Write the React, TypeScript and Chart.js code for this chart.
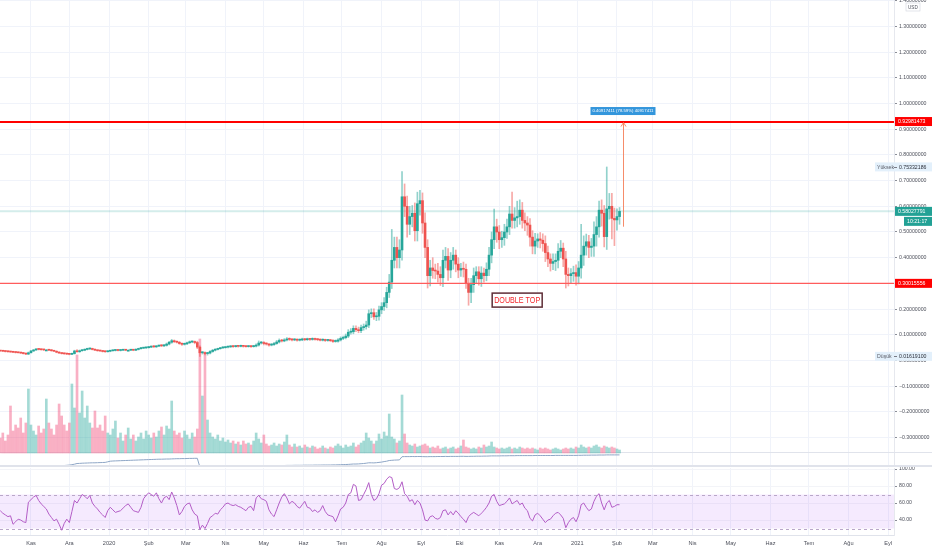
import React, { useEffect, useRef } from "react";
import { Chart, registerables } from "chart.js";

Chart.register(...registerables);

// ---------- data (days counted from 1 Nov 2019, one candle per 2 days) ----------
const firstDay = -24;
const dayStep = 2;
const firstOpen = 0.038;

const closes = [
  0.037, 0.036, 0.035, 0.034, 0.033, 0.032, 0.031, 0.030, 0.029, 0.027,
  0.025, 0.030, 0.037, 0.041, 0.044, 0.043, 0.042, 0.041, 0.041, 0.040,
  0.038, 0.036, 0.032, 0.029, 0.027, 0.026, 0.025, 0.024, 0.027, 0.037,
  0.034, 0.038, 0.040, 0.043, 0.045, 0.046, 0.043, 0.040, 0.038, 0.037,
  0.035, 0.034, 0.036, 0.038, 0.039, 0.040, 0.039, 0.040, 0.041, 0.040,
  0.040, 0.041, 0.040, 0.043, 0.046, 0.048, 0.049, 0.050, 0.052, 0.055,
  0.053, 0.056, 0.058, 0.057, 0.059, 0.064, 0.071, 0.077, 0.073, 0.071,
  0.066, 0.063, 0.065, 0.069, 0.072, 0.073, 0.070, 0.052, 0.030, 0.031,
  0.027, 0.029, 0.035, 0.040, 0.043, 0.046, 0.049, 0.050, 0.052, 0.053,
  0.055, 0.054, 0.056, 0.055, 0.057, 0.055, 0.054, 0.055, 0.054, 0.056,
  0.060, 0.068, 0.070, 0.066, 0.064, 0.060, 0.062, 0.066, 0.072, 0.078,
  0.076, 0.080, 0.084, 0.082, 0.080, 0.081, 0.079, 0.080, 0.082, 0.081,
  0.083, 0.082, 0.084, 0.082, 0.081, 0.079, 0.080, 0.078, 0.079, 0.077,
  0.074, 0.075, 0.080, 0.086, 0.089, 0.095, 0.110, 0.112, 0.125, 0.120,
  0.116, 0.128, 0.132, 0.138, 0.182, 0.186, 0.170, 0.172, 0.197, 0.210,
  0.225, 0.265, 0.305, 0.390, 0.440, 0.400, 0.430, 0.637, 0.600, 0.530,
  0.560, 0.573, 0.505, 0.610, 0.622, 0.535, 0.440, 0.330, 0.360, 0.350,
  0.348, 0.335, 0.322, 0.390, 0.405, 0.352, 0.390, 0.410, 0.375, 0.352,
  0.358, 0.355, 0.300, 0.265, 0.295, 0.330, 0.345, 0.318, 0.340, 0.330,
  0.355, 0.410, 0.470, 0.520, 0.500, 0.470, 0.478, 0.500, 0.520, 0.570,
  0.545, 0.555, 0.560, 0.585, 0.545, 0.535, 0.527, 0.480, 0.445, 0.465,
  0.473, 0.468, 0.455, 0.420, 0.395, 0.378, 0.385, 0.390, 0.425, 0.437,
  0.395, 0.335, 0.330, 0.338, 0.342, 0.328, 0.360, 0.410, 0.445, 0.462,
  0.440, 0.445, 0.490, 0.520, 0.585, 0.573, 0.482, 0.590, 0.600, 0.553,
  0.547, 0.560, 0.58027791,
];

// upper / lower wick lengths, in thousandths of USD
const upWick = [
  2, 2, 1, 2, 2, 1, 2, 2, 1, 2,
  2, 3, 3, 2, 2, 2, 1, 2, 2, 2,
  2, 1, 2, 2, 1, 2, 2, 1, 2, 3,
  5, 3, 2, 2, 3, 2, 2, 2, 1, 2,
  2, 2, 2, 2, 1, 2, 2, 2, 2, 1,
  2, 2, 2, 2, 2, 3, 2, 2, 3, 2,
  3, 2, 2, 3, 3, 4, 4, 5, 3, 3,
  3, 3, 3, 3, 4, 3, 3, 5, 5, 3,
  3, 3, 4, 3, 3, 2, 2, 3, 2, 3,
  3, 2, 3, 2, 3, 2, 2, 3, 2, 3,
  5, 8, 4, 4, 3, 3, 4, 5, 6, 6,
  4, 5, 5, 4, 3, 4, 3, 4, 5, 3,
  4, 3, 4, 3, 3, 3, 4, 3, 3, 3,
  4, 5, 5, 6, 6, 8, 10, 12, 10, 10,
  10, 10, 10, 15, 15, 15, 15, 15, 15, 15,
  20, 20, 30, 120, 40, 40, 40, 98, 50, 40,
  40, 30, 40, 45, 40, 30, 40, 30, 30, 40,
  25, 30, 30, 40, 35, 30, 30, 30, 20, 25,
  20, 25, 20, 20, 25, 30, 20, 20, 25, 20,
  25, 30, 30, 69, 30, 25, 25, 30, 30, 30,
  85, 40, 60, 40, 30, 30, 25, 25, 25, 30,
  20, 25, 25, 30, 25, 20, 30, 25, 30, 30,
  20, 30, 25, 20, 25, 30, 25, 120, 40, 30,
  25, 30, 50, 40, 35, 40, 30, 163, 50, 50,
  40, 30, 15,
];

const dnWick = [
  2, 1, 2, 2, 1, 2, 2, 1, 2, 2,
  2, 2, 1, 2, 2, 2, 2, 2, 1, 2,
  2, 2, 2, 1, 2, 2, 2, 2, 1, 2,
  2, 2, 2, 2, 2, 2, 2, 1, 2, 2,
  2, 2, 1, 2, 2, 2, 2, 2, 1, 2,
  2, 1, 2, 2, 2, 2, 2, 2, 2, 2,
  2, 2, 2, 3, 3, 3, 3, 4, 3, 3,
  3, 4, 3, 3, 3, 3, 5, 6, 14, 5,
  5, 6, 3, 3, 3, 2, 2, 2, 2, 3,
  2, 3, 2, 3, 2, 3, 2, 2, 3, 2,
  3, 4, 4, 5, 4, 4, 3, 3, 3, 4,
  4, 3, 4, 4, 4, 3, 4, 3, 3, 4,
  3, 4, 3, 3, 4, 3, 3, 4, 3, 3,
  4, 3, 4, 4, 5, 5, 6, 8, 8, 8,
  8, 8, 10, 10, 10, 15, 10, 15, 15, 15,
  15, 20, 20, 25, 30, 40, 40, 40, 40, 50,
  40, 40, 40, 40, 45, 40, 40, 48, 40, 30,
  30, 30, 30, 35, 30, 40, 30, 35, 30, 30,
  25, 30, 20, 50, 40, 30, 30, 25, 30, 25,
  20, 25, 30, 35, 40, 35, 30, 30, 25, 30,
  30, 30, 35, 30, 30, 30, 40, 35, 30, 30,
  25, 30, 30, 35, 30, 30, 25, 35, 30, 25,
  30, 53, 40, 30, 30, 35, 30, 40, 40, 35,
  40, 35, 40, 45, 40, 50, 40, 50, 40, 80,
  100, 40, 30,
];

const volumes = [
  15, 20, 12, 18, 47, 22, 28, 25, 35, 20,
  30, 64, 28, 22, 18, 27, 20, 24, 54, 30,
  24, 18, 28, 49, 37, 28, 22, 30, 69, 45,
  98, 40, 62, 35, 47, 30, 25, 42, 25, 28,
  22, 37, 20, 18, 24, 32, 15, 20, 12, 18,
  25, 14, 18, 12, 16, 20, 14, 22, 18, 15,
  20, 16, 22, 26, 18, 27, 24, 52, 22, 18,
  20, 15, 22, 18, 14, 20, 16, 24, 114, 57,
  100, 33, 20, 16, 14, 18, 12, 15, 11, 13,
  10, 12, 9, 11, 8, 12, 9, 10, 8, 12,
  20, 14, 10, 18, 9, 7, 8, 10, 7, 9,
  8, 11, 18, 8, 6, 9, 6, 7, 5, 8,
  6, 5, 7, 6, 4, 5, 7, 5, 4, 6,
  5, 7, 9, 7, 5, 8, 6, 7, 10, 6,
  8, 10, 12, 20, 15, 12, 9, 12, 19, 14,
  21, 17, 39, 16, 14, 10, 12, 58, 19, 10,
  8, 7, 9, 6, 7, 8, 9, 7, 5, 6,
  5, 7, 4, 5, 6, 4, 5, 6, 4, 5,
  7, 13, 6, 5, 4, 5, 4, 6, 5, 8,
  6, 7, 11, 6, 5, 4, 5, 4, 5, 6,
  4, 5, 4, 6, 5, 4, 5, 4, 5, 4,
  3, 5, 4, 5, 4, 3, 4, 5, 4, 3,
  4, 5, 4, 5, 4, 6, 5, 8, 6, 5,
  6, 5, 7, 8, 6, 5, 7, 6, 5, 6,
  5, 4, 3,
];

// cumulative volume indicator (drawn in the thin strip under the volume)
const adLine = [
  null, null, null, null, null, null, null, null, null, null, null,
  0.3, 0.4, 0.5, 0.6, 0.6, 0.7, 0.8, 0.9, 1.0,
  1.0, 1.1, 1.2, 1.3, 1.4, 1.5, 1.7, 1.9, 2.3, 2.8,
  3.5, 3.6, 3.8, 3.9, 4.0, 4.1, 4.2, 4.2, 4.3, 4.4,
  4.5, 4.6, 5.2, 5.8, 6.0, 6.1, 6.2, 6.3, 6.4, 6.5,
  6.6, 6.7, 6.8, 6.9, 7.0, 7.1, 7.2, 7.3, 7.4, 7.5,
  7.6, 7.7, 7.8, 7.8, 7.9, 8.0, 8.0, 8.1, 8.2, 8.3,
  8.3, 8.4, 8.4, 8.5, 8.6, 8.6, 8.7, 8.7, 0.0, 0.1,
  0.2, 0.3, 0.3, 0.4, 0.4, 0.5, 0.5, 0.6, 0.6, 0.7,
  0.7, 0.8, 0.8, 0.8, 0.9, 0.9, 0.9, 1.0, 1.0, 1.0,
  1.1, 1.2, 1.2, 1.2, 1.3, 1.3, 1.3, 1.4, 1.4, 1.4,
  1.5, 1.5, 1.6, 1.6, 1.6, 1.7, 1.7, 1.7, 1.7, 1.8,
  1.8, 1.8, 1.8, 1.9, 1.9, 1.9, 2.0, 2.0, 2.0, 2.0,
  2.1, 2.1, 2.2, 2.3, 2.4, 2.5, 2.6, 2.8, 3.0, 3.0,
  3.1, 3.3, 3.5, 3.8, 4.2, 4.2, 4.1, 4.3, 4.6, 4.9,
  5.4, 5.8, 6.5, 6.7, 6.9, 7.0, 7.1, 10.3, 10.4, 10.4,
  10.4, 10.5, 10.4, 10.5, 10.5, 10.4, 10.3, 10.3, 10.4, 10.4,
  10.4, 10.5, 10.5, 10.5, 10.6, 10.5, 10.6, 10.6, 10.6, 10.6,
  10.7, 10.7, 10.6, 10.6, 10.7, 10.7, 10.8, 10.8, 10.8, 10.9,
  10.9, 11.0, 11.1, 11.1, 11.1, 11.1, 11.2, 11.2, 11.2, 11.3,
  11.3, 11.3, 11.4, 11.4, 11.4, 11.4, 11.4, 11.4, 11.4, 11.5,
  11.5, 11.5, 11.5, 11.5, 11.5, 11.5, 11.5, 11.6, 11.6, 11.6,
  11.6, 11.6, 11.6, 11.6, 11.6, 11.6, 11.7, 11.7, 11.8, 11.8,
  11.8, 11.9, 11.9, 11.9, 12.0, 12.0, 12.0, 12.1, 12.1, 12.1,
  12.1, 12.1, 12.1,
];

const rsi = [
  51, 48, 46, 44, 45, 35, 38, 41, 40, 38,
  37, 61, 64, 67, 69, 63, 59, 56, 53, 47,
  43, 39, 41, 35, 28, 36, 41, 37, 50, 63,
  60, 65, 70, 68, 65, 69, 60, 56, 53, 49,
  46, 43, 51, 55, 52, 49, 50, 51, 54, 57,
  59, 55, 51, 50, 49, 55, 65, 69, 72, 70,
  68, 72, 65, 60, 66, 68, 64, 73, 66, 57,
  46, 50, 56, 59, 60, 52, 47, 45, 29, 34,
  30, 36, 43, 45, 48, 47, 52, 55, 59, 60,
  58, 57, 58, 56, 55, 53, 51, 55, 56, 51,
  66, 69, 65, 64, 62, 52, 47, 44, 52, 60,
  67, 71, 66, 59, 62, 60, 56, 54, 58, 62,
  55, 54, 50, 52, 49, 51, 57, 50, 46, 45,
  44, 38, 45, 53, 55, 60, 70, 72, 82, 80,
  63, 64, 70, 76, 84, 70, 63, 65, 71, 81,
  83, 88, 91, 90, 77, 76, 78, 85, 71, 68,
  62, 64, 58, 63, 60, 52, 40, 39, 44, 45,
  42, 41, 43, 51, 52, 46, 50, 46, 51, 48,
  44, 41, 37, 44, 47, 49, 47, 45, 48, 51,
  55, 60, 68, 70, 62, 57, 58, 59, 62, 66,
  59, 61, 63, 58, 60, 54, 51, 42, 39, 46,
  48, 45, 41, 37, 40, 41, 45, 48, 49, 46,
  42, 31, 37, 41, 43, 38, 45, 58, 60, 55,
  51, 53, 62, 68, 71, 60, 52, 60, 63, 55,
  56, 58, 58,
];

const monthDays = [0, 30, 61, 92, 121, 152, 182, 213, 243, 274, 305, 335, 366, 396, 427, 458, 486, 517, 547, 578, 608, 639, 670];
const monthLabels = ["Kas", "Ara", "2020", "Şub", "Mar", "Nis", "May", "Haz", "Tem", "Ağu", "Eyl", "Eki", "Kas", "Ara", "2021", "Şub", "Mar", "Nis", "May", "Haz", "Tem", "Ağu", "Eyl"];
const priceTicks = [1.4, 1.3, 1.2, 1.1, 1.0, 0.9, 0.8, 0.7, 0.6, 0.5, 0.4, 0.3, 0.2, 0.1, 0, -0.1, -0.2, -0.3];
const rsiTicks = [100, 80, 60, 40];

const resistance = 0.92981473;
const support = 0.30015556;
const lastPrice = 0.58027791;
const lastTime = "10:21:17";
const highValue = 0.75332186;
const lowValue = 0.016191;
const measureFrom = 0.52064062;
const measureDay = 463;
const measureText = "0.40917411 (78.59%) 40917411";
const noteText = "DOUBLE TOP";
const noteDay = 380;
const notePrice = 0.235;

// ---------- view ----------
const X_MIN = -24.2;
const X_MAX = 674.5;
const P_MIN = -0.4144;
const P_MAX = 1.4027;
const FONT = "'Liberation Sans', Arial, sans-serif";
const AXIS_W = 38;
const UP = "#26a69a";
const DOWN = "#ef5350";

const n = closes.length;
const days = closes.map((_, i) => firstDay + dayStep * i);
const opens = closes.map((_, i) => (i === 0 ? firstOpen : closes[i - 1]));
const highs = closes.map((c, i) => Math.max(opens[i], c) + (upWick[i] ?? 0) / 1000);
const lows = closes.map((c, i) => Math.min(opens[i], c) - (dnWick[i] ?? 0) / 1000);
const isUp = closes.map((c, i) => c >= opens[i]);

const fmtPrice = (v: number) => v.toFixed(8).replace("-", "\u2212");

function fixWidth(s: any) {
  s.width = AXIS_W;
  s.paddingTop = 0;
  s.paddingBottom = 0;
}

const mainOverlay = {
  id: "mainOverlay",
  beforeDatasetsDraw(chart: any) {
    const { ctx, chartArea: a, scales } = chart;
    const y = scales.y;
    ctx.save();
    ctx.strokeStyle = "#e0e3eb";
    ctx.lineWidth = 1;
    ctx.beginPath();
    ctx.moveTo(0, 452.5);
    ctx.lineTo(chart.width, 452.5);
    ctx.stroke();
    const py = y.getPixelForValue(lastPrice);
    ctx.strokeStyle = "rgba(38,166,154,0.2)";
    ctx.lineWidth = 2;
    ctx.beginPath();
    ctx.moveTo(a.left, py);
    ctx.lineTo(a.right, py);
    ctx.stroke();
    ctx.restore();
  },
  afterDatasetsDraw(chart: any) {
    const { ctx, chartArea: a, scales } = chart;
    const x = scales.x;
    const y = scales.y;
    ctx.save();
    // support line
    const sp = y.getPixelForValue(support);
    ctx.strokeStyle = "#ff5c5c";
    ctx.lineWidth = 1.4;
    ctx.beginPath();
    ctx.moveTo(a.left, sp);
    ctx.lineTo(a.right, sp);
    ctx.stroke();
    // resistance line
    const rp = Math.round(y.getPixelForValue(resistance));
    ctx.strokeStyle = "#ff0000";
    ctx.lineWidth = 2;
    ctx.beginPath();
    ctx.moveTo(a.left, rp);
    ctx.lineTo(a.right, rp);
    ctx.stroke();

    const mx = Math.round(x.getPixelForValue(measureDay)) + 0.5;
    const y0 = y.getPixelForValue(measureFrom);
    const y1 = y.getPixelForValue(resistance);
    ctx.strokeStyle = "rgba(245,120,80,0.85)";
    ctx.lineWidth = 1;
    ctx.beginPath();
    ctx.moveTo(mx, y0);
    ctx.lineTo(mx, y1 + 1);
    ctx.moveTo(mx - 2.5, y1 + 5);
    ctx.lineTo(mx, y1 + 1);
    ctx.lineTo(mx + 2.5, y1 + 5);
    ctx.stroke();
    ctx.fillStyle = "#3396dc";
    ctx.fillRect(mx - 33, y1 - 14.5, 65, 8);
    ctx.fillStyle = "#ffffff";
    ctx.font = `4.4px ${FONT}`;
    ctx.textAlign = "center";
    ctx.textBaseline = "middle";
    ctx.fillText(measureText, mx - 0.5, y1 - 10.3, 61);

    const nx = x.getPixelForValue(noteDay);
    const ny = y.getPixelForValue(notePrice);
    ctx.fillStyle = "#ffffff";
    ctx.fillRect(nx - 25, ny - 7, 50, 14);
    ctx.strokeStyle = "#5e2d37";
    ctx.lineWidth = 1.5;
    ctx.strokeRect(nx - 25, ny - 7, 50, 14);
    ctx.fillStyle = "#f2262c";
    ctx.font = `8.5px ${FONT}`;
    ctx.fillText(noteText, nx, ny + 0.5, 46);
    ctx.restore();
  },
  afterDraw(chart: any) {
    const { ctx, chartArea: a, scales } = chart;
    const y = scales.y;
    const W = chart.width;
    ctx.save();
    ctx.textBaseline = "middle";
    ctx.textAlign = "left";
    ctx.font = `5.2px ${FONT}`;
    const tag = (v: number, text: string, bg: string, fg: string, left: number, dy = 0) => {
      const p = y.getPixelForValue(v) + dy;
      ctx.fillStyle = bg;
      ctx.fillRect(left, p - 4.5, W - left, 9);
      ctx.fillStyle = fg;
      ctx.fillText(text, left + 3, p + 0.3);
    };
    tag(resistance, fmtPrice(resistance), "#ff0000", "#ffffff", a.right + 1);
    tag(support, fmtPrice(support), "#ff0000", "#ffffff", a.right + 1);
    tag(lastPrice, fmtPrice(lastPrice), "#22a195", "#ffffff", a.right + 1);
    tag(lastPrice, lastTime, "#22a195", "#ffffff", a.right + 10, 10);

    const sideTag = (v: number, word: string) => {
      const p = y.getPixelForValue(v);
      ctx.fillStyle = "#e3f0fb";
      ctx.fillRect(a.right - 19, p - 4.5, W - a.right + 19, 9);
      ctx.fillStyle = "#5d606b";
      ctx.fillText(word, a.right - 17, p + 0.3);
      ctx.fillStyle = "#2a2e39";
      ctx.fillText(fmtPrice(v), a.right + 5, p + 0.3);
      ctx.strokeStyle = "#787b86";
      ctx.lineWidth = 1;
      ctx.beginPath();
      ctx.moveTo(a.right, Math.round(p) + 0.5);
      ctx.lineTo(a.right + 3, Math.round(p) + 0.5);
      ctx.stroke();
    };
    sideTag(highValue, "Yüksek");
    sideTag(lowValue, "Düşük");

    ctx.fillStyle = "#ffffff";
    ctx.fillRect(a.right + 12, 3, 14, 8);
    ctx.strokeStyle = "#d1d4dc";
    ctx.lineWidth = 0.6;
    ctx.strokeRect(a.right + 12, 3, 14, 8);
    ctx.fillStyle = "#50535e";
    ctx.font = `4.6px ${FONT}`;
    ctx.fillText("USD", a.right + 14, 7.3);
    ctx.restore();
  },
};

const rsiBand = {
  id: "rsiBand",
  beforeDatasetsDraw(chart: any) {
    const { ctx, chartArea: a, scales } = chart;
    const y = scales.y;
    const t = y.getPixelForValue(70);
    const b = y.getPixelForValue(30);
    ctx.save();
    ctx.fillStyle = "rgba(140,20,240,0.09)";
    ctx.fillRect(a.left, t, a.right - a.left, b - t);
    ctx.strokeStyle = "#b9a7c9";
    ctx.lineWidth = 1;
    ctx.setLineDash([3, 3]);
    ctx.beginPath();
    ctx.moveTo(a.left, Math.round(t) + 0.5);
    ctx.lineTo(a.right, Math.round(t) + 0.5);
    ctx.moveTo(a.left, Math.round(b) + 0.5);
    ctx.lineTo(a.right, Math.round(b) + 0.5);
    ctx.stroke();
    ctx.restore();
  },
};

const monthTickBuilder = (s: any) => {
  s.ticks = monthDays.map((v) => ({ value: v }));
};

export default function App() {
  const mainRef = useRef<HTMLCanvasElement>(null);
  const rsiRef = useRef<HTMLCanvasElement>(null);

  useEffect(() => {
    const idx = Array.from({ length: n }, (_, i) => i);
    const main = new Chart(mainRef.current as HTMLCanvasElement, {
      type: "bar",
      data: {
        datasets: [
          {
            type: "bar",
            data: idx.map((i) => ({ x: days[i], y: volumes[i] })) as any,
            yAxisID: "yVol",
            backgroundColor: idx.map((i) => (isUp[i] ? "rgba(38,166,154,0.42)" : "rgba(242,80,125,0.45)")),
            barThickness: 2,
            grouped: false,
            borderWidth: 0,
            order: 4,
          } as any,
          {
            type: "line",
            data: idx.map((i) => ({ x: days[i], y: adLine[i] })) as any,
            yAxisID: "yAd",
            borderColor: "#8ea6c6",
            borderWidth: 1,
            pointRadius: 0,
            spanGaps: false,
            order: 3,
          } as any,
          {
            type: "bar",
            data: idx.map((i) => ({ x: days[i], y: [lows[i], highs[i]] })) as any,
            yAxisID: "y",
            backgroundColor: idx.map((i) => (isUp[i] ? "rgba(38,166,154,0.5)" : "rgba(239,83,80,0.5)")),
            barThickness: 1,
            grouped: false,
            borderWidth: 0,
            order: 2,
          } as any,
          {
            type: "bar",
            data: idx.map((i) => ({ x: days[i], y: [opens[i], closes[i]] })) as any,
            yAxisID: "y",
            backgroundColor: idx.map((i) => (isUp[i] ? UP : DOWN)),
            barThickness: 2,
            minBarLength: 1,
            grouped: false,
            borderWidth: 0,
            order: 1,
          } as any,
        ],
      },
      options: {
        responsive: false,
        animation: false,
        events: [],
        layout: { padding: 0 },
        plugins: { legend: { display: false }, tooltip: { enabled: false } },
        scales: {
          x: {
            type: "linear",
            min: X_MIN,
            max: X_MAX,
            offset: false,
            afterBuildTicks: monthTickBuilder,
            afterFit: (s: any) => {
              s.height = 0;
              s.paddingLeft = 0;
              s.paddingRight = 0;
            },
            ticks: { display: false },
            grid: { color: "#f0f3fa", drawTicks: false, offset: false },
            border: { display: false },
          },
          y: {
            type: "linear",
            position: "right",
            min: P_MIN,
            max: P_MAX,
            afterBuildTicks: (s: any) => {
              s.ticks = priceTicks.map((v) => ({ value: v }));
            },
            afterFit: fixWidth,
            ticks: {
              callback: (v: any) => fmtPrice(Number(v)),
              font: { size: 5.2, family: FONT },
              color: "#4c4f5a",
              padding: 2,
            },
            grid: { color: "#f0f3fa", tickLength: 3, tickColor: "#8a8d96" },
            border: { display: true, color: "#e6e8ee" },
          },
          yVol: { type: "linear", display: false, min: -14, max: 453 },
          yAd: { type: "linear", display: false, min: 0, max: 467 },
        },
      } as any,
      plugins: [mainOverlay],
    });

    const rsiChart = new Chart(rsiRef.current as HTMLCanvasElement, {
      type: "line",
      data: {
        datasets: [
          {
            data: idx.map((i) => ({ x: days[i], y: rsi[i] })) as any,
            borderColor: "#b35dc6",
            borderWidth: 1,
            pointRadius: 0,
            tension: 0,
          },
        ],
      },
      options: {
        responsive: false,
        animation: false,
        events: [],
        layout: { padding: { top: 1, left: 0, right: 0, bottom: 0 } },
        plugins: { legend: { display: false }, tooltip: { enabled: false } },
        scales: {
          x: {
            type: "linear",
            min: X_MIN,
            max: X_MAX,
            afterBuildTicks: monthTickBuilder,
            afterFit: (s: any) => {
              s.height = 15;
              s.paddingLeft = 0;
              s.paddingRight = 0;
            },
            ticks: {
              autoSkip: false,
              maxRotation: 0,
              padding: 5,
              font: { size: 5.6, family: FONT },
              color: "#4c4f5a",
              callback: (_v: any, i: number) => monthLabels[i],
            },
            grid: { color: "#f0f3fa", drawTicks: false },
            border: { display: true, color: "#e0e3eb" },
          },
          y: {
            type: "linear",
            position: "right",
            min: 22.4,
            max: 101.2,
            afterBuildTicks: (s: any) => {
              s.ticks = rsiTicks.map((v) => ({ value: v }));
            },
            afterFit: fixWidth,
            ticks: {
              callback: (v: any) => Number(v).toFixed(2),
              font: { size: 5.2, family: FONT },
              color: "#4c4f5a",
              padding: 2,
            },
            grid: { color: "#f3f4f8", tickLength: 3, tickColor: "#8a8d96" },
            border: { display: true, color: "#e6e8ee" },
          },
        },
      } as any,
      plugins: [rsiBand],
    });

    return () => {
      main.destroy();
      rsiChart.destroy();
    };
  }, []);

  return (
    <div
      style={{
        position: "absolute",
        left: 0,
        top: 0,
        width: 932,
        height: 550,
        overflow: "hidden",
        background: "#ffffff",
      }}
    >
      <canvas
        ref={mainRef}
        width={932}
        height={467}
        style={{ position: "absolute", left: 0, top: 0, width: 932, height: 467 }}
      />
      <div
        style={{
          position: "absolute",
          left: 0,
          top: 465,
          width: 932,
          height: 2,
          background: "#e0e3eb",
        }}
      />
      <canvas
        ref={rsiRef}
        width={932}
        height={83}
        style={{ position: "absolute", left: 0, top: 467, width: 932, height: 83 }}
      />
    </div>
  );
}
